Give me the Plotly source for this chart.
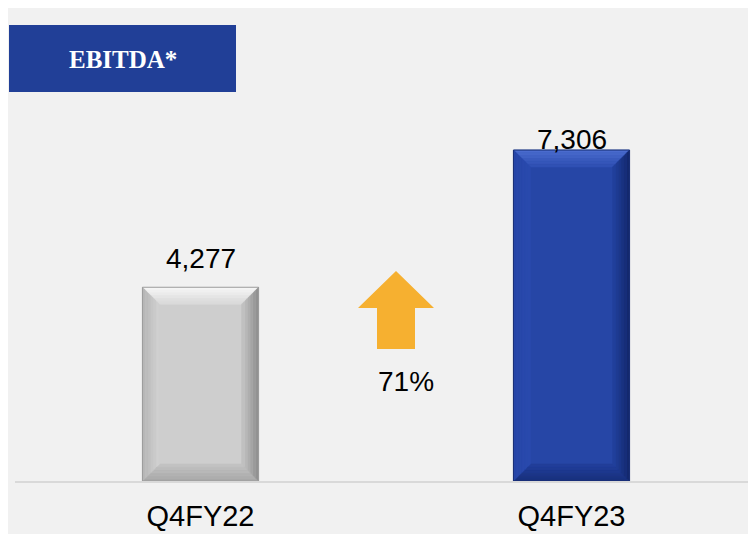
import plotly.graph_objects as go

# ---- data ----
categories = ["Q4FY22", "Q4FY23"]
values = [4277, 7306]
value_labels = ["4,277", "7,306"]
growth_label = "71%"
title_text = "EBITDA*"

# ---- styling ----
W, H = 756, 534
OFF = 8  # page body margin
M_L, M_R, M_T, M_B = 7, 7, 20, 61
Y_MAX = 10000
BAR_WIDTH = 0.313
BEVEL_PX = 17
STRIPS = 6
face_colors = ["#cecece", "#2646a6"]
outline_colors = ["#9c9c9c", "#1a2f75"]
# (outer, inner) colours of each bevel side
bevel_colors = [
    dict(top=("#f8f8f8", "#d8d8d8"), left=("#b4b4b4", "#d2d2d2"),
         right=("#8c8c8c", "#c6c6c6"), bottom=("#a6a6a6", "#c4c4c4")),
    dict(top=("#4d6ed0", "#2d4eb2"), left=("#2746a8", "#2a4aae"),
         right=("#13276a", "#2242a0"), bottom=("#172f7a", "#223f9c")),
]
label_shift = [29, 11]

plot_w = W - M_L - M_R
plot_h = H - M_T - M_B


def px(x):
    return (x - OFF - M_L) / plot_w


def py(y):
    return (H - M_B - (y - OFF)) / plot_h


def mix(c1, c2, t):
    a = [int(c1[k:k + 2], 16) for k in (1, 3, 5)]
    b = [int(c2[k:k + 2], 16) for k in (1, 3, 5)]
    return "#" + "".join(f"{round(a[j] + (b[j] - a[j]) * t):02x}" for j in range(3))


xs = list(range(len(categories)))

fig = go.Figure()
fig.add_trace(go.Bar(
    x=xs, y=values, width=BAR_WIDTH,
    marker=dict(color=face_colors, line=dict(width=0)),
    hoverinfo="skip", showlegend=False,
))

shapes = []
# title box
shapes.append(dict(type="rect", xref="paper", yref="paper",
                   x0=px(9), x1=px(236), y0=py(92), y1=py(25),
                   fillcolor="#213f97", line=dict(width=0)))

# bevels computed from bar geometry
ux = plot_w / 2.0  # px per x unit (range -0.5..1.5)
uy = plot_h / Y_MAX  # px per y unit
for i, v in zip(xs, values):
    xl, xr = i - BAR_WIDTH / 2, i + BAR_WIDTH / 2
    yb, yt = 0, v
    c = bevel_colors[i]
    for s in range(STRIPS):
        d0 = BEVEL_PX * s / STRIPS
        d1 = BEVEL_PX * (s + 1) / STRIPS
        ax0, ax1 = d0 / ux, d1 / ux
        ay0, ay1 = d0 / uy, d1 / uy
        t = (s + 0.5) / STRIPS
        polys = {
            "top": [(xl + ax0, yt - ay0), (xr - ax0, yt - ay0), (xr - ax1, yt - ay1), (xl + ax1, yt - ay1)],
            "bottom": [(xl + ax0, yb + ay0), (xr - ax0, yb + ay0), (xr - ax1, yb + ay1), (xl + ax1, yb + ay1)],
            "left": [(xl + ax0, yb + ay0), (xl + ax0, yt - ay0), (xl + ax1, yt - ay1), (xl + ax1, yb + ay1)],
            "right": [(xr - ax0, yb + ay0), (xr - ax0, yt - ay0), (xr - ax1, yt - ay1), (xr - ax1, yb + ay1)],
        }
        for k, pts in polys.items():
            path = "M " + " L ".join(f"{a},{b}" for a, b in pts) + " Z"
            col = mix(c[k][0], c[k][1], t)
            shapes.append(dict(type="path", xref="x", yref="y", path=path,
                               fillcolor=col, line=dict(width=0.6, color=col), layer="above"))
    shapes.append(dict(type="rect", xref="x", yref="y", x0=xl, x1=xr, y0=yb, y1=yt,
                       fillcolor="rgba(0,0,0,0)", line=dict(width=1, color=outline_colors[i]),
                       layer="above"))

# growth arrow
arrow_pts = [(396, 271), (434, 308), (415, 308), (415, 349),
             (377, 349), (377, 308), (358, 308)]
apath = "M " + " L ".join(f"{px(a)},{py(b)}" for a, b in arrow_pts) + " Z"
shapes.append(dict(type="path", xref="paper", yref="paper", path=apath,
                   fillcolor="#f6b030", line=dict(width=0)))

annotations = []
for i, v, t, s in zip(xs, values, value_labels, label_shift):
    annotations.append(dict(x=i, y=v, xref="x", yref="y", text=t,
                            showarrow=False, xanchor="center", yanchor="middle", yshift=s,
                            font=dict(family="Liberation Sans, Arial", size=28, color="#000000")))
annotations.append(dict(x=px(406), y=py(381), xref="paper", yref="paper",
                        text=growth_label, showarrow=False,
                        xanchor="center", yanchor="middle",
                        font=dict(family="Liberation Sans, Arial", size=28, color="#000000")))
annotations.append(dict(x=px(123), y=py(59), xref="paper", yref="paper",
                        text=f"<b>{title_text}</b>", showarrow=False,
                        xanchor="center", yanchor="middle",
                        font=dict(family="Liberation Serif, DejaVu Serif", size=25, color="#ffffff")))

fig.update_layout(
    width=W, height=H,
    margin=dict(l=M_L, r=M_R, t=M_T, b=M_B, pad=0),
    paper_bgcolor="#f1f1f1", plot_bgcolor="rgba(0,0,0,0)",
    shapes=shapes, annotations=annotations,
    xaxis=dict(range=[-0.5, 1.5], tickvals=xs, ticktext=categories,
               showgrid=False, zeroline=False, showline=True,
               linecolor="#d9d9d9", linewidth=2,
               ticks="outside", ticklen=8, tickcolor="rgba(0,0,0,0)",
               tickfont=dict(family="Liberation Sans, Arial", size=29, color="#000000"),
               fixedrange=True),
    yaxis=dict(range=[0, Y_MAX], visible=False, showgrid=False, zeroline=False,
               fixedrange=True),
    bargap=0,
)

fig.write_html("out.html")
